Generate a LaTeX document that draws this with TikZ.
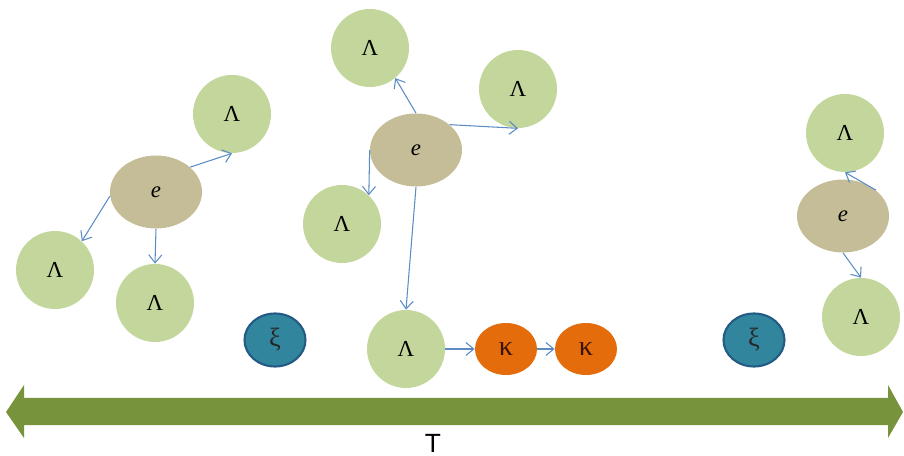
\documentclass[tikz,border=0pt]{standalone}
\usepackage{fontspec}
\setmainfont{Liberation Serif}
\newfontfamily\tfont{Liberation Sans}
\usetikzlibrary{arrows.meta, shapes.geometric}

\definecolor{lamgreen}{HTML}{C3D69B}
\definecolor{etan}{HTML}{C4BD97}
\definecolor{kaporange}{HTML}{E46C0A}
\definecolor{kaptext}{HTML}{3A1206}
\definecolor{xiteal}{HTML}{31859C}
\definecolor{xiedge}{HTML}{245B85}
\definecolor{connblue}{HTML}{5B8CC4}
\definecolor{timegreen}{HTML}{77933C}

\begin{document}
\begin{tikzpicture}[x=0.02cm, y=-0.02cm,
    lam/.style={circle, fill=lamgreen, minimum size=1.56cm, inner sep=0pt,
        font=\fontsize{13}{13}\selectfont},
    elec/.style={ellipse, fill=etan, minimum width=1.84cm, minimum height=1.46cm,
        inner sep=0pt, font=\fontsize{13}{13}\selectfont\itshape},
    kap/.style={ellipse, fill=kaporange, minimum width=1.24cm, minimum height=1.04cm,
        inner sep=0pt, text=kaptext, font=\fontsize{16}{16}\selectfont},
    xinode/.style={ellipse, fill=xiteal, draw=xiedge, line width=1.2pt,
        minimum width=1.22cm, minimum height=1.06cm, inner sep=0pt,
        text=black!85, font=\fontsize{15}{15}\selectfont},
    conn/.style={connblue, line width=0.6pt,
        -{Straight Barb[length=1.6mm, width=2.6mm]}}
]
\useasboundingbox (0,0) rectangle (904,456);

% =========================
% left group
% =========================
\node[elec] (e1) at (156,192) {e};
\node[lam] (l1a) at (232,114) {Λ};
\node[lam] (l1b) at (55,270) {Λ};
\node[lam] (l1c) at (155,303) {Λ};

\draw[conn] (e1.36) -- (l1a.south);
\draw[conn] (e1.185) -- (l1b.47);
\draw[conn] (e1.south) -- (l1c.north);

% =========================
% middle group
% =========================
\node[elec] (e2) at (416,150) {e};
\node[lam] (lm1) at (370,48) {Λ};
\node[lam] (lm2) at (518,89) {Λ};
\node[lam] (lm3) at (342,224) {Λ};
\node[lam] (lm4) at (406,349) {Λ};
\node[kap] (k1) at (506,349) {κ};
\node[kap] (k2) at (586,349) {κ};

\draw[conn] (e2.north) -- (lm1.-50);
\draw[conn] (e2.37) -- (lm2.south);
\draw[conn] (e2.west) -- (lm3.47);
\draw[conn] (e2.south) -- (lm4.north);
\draw[conn] (lm4.east) -- (k1.west);
\draw[conn] (k1.east) -- (k2.west);

% =========================
% right group
% =========================
\node[elec] (e3) at (843,216) {e};
\node[lam] (lr1) at (845,133) {Λ};
\node[lam] (lr2) at (861,317) {Λ};

\draw[conn] (e3.38) -- (lr1.south);
\draw[conn] (e3.south) -- (lr2.north);

% xi particles
\node[xinode] (xi1) at (275,340) {ξ};
\node[xinode] (xi2) at (754,340) {ξ};

% time axis
\fill[timegreen] (6,412) -- (24,385) -- (24,398) -- (888,398) -- (888,385)
    -- (903,412) -- (888,438) -- (888,425) -- (24,425) -- (24,438) -- cycle;
\node[anchor=north, inner sep=0pt, font=\tfont\fontsize{15}{15}\selectfont]
    (tlabel) at (433,434) {T};

\end{tikzpicture}
\end{document}
